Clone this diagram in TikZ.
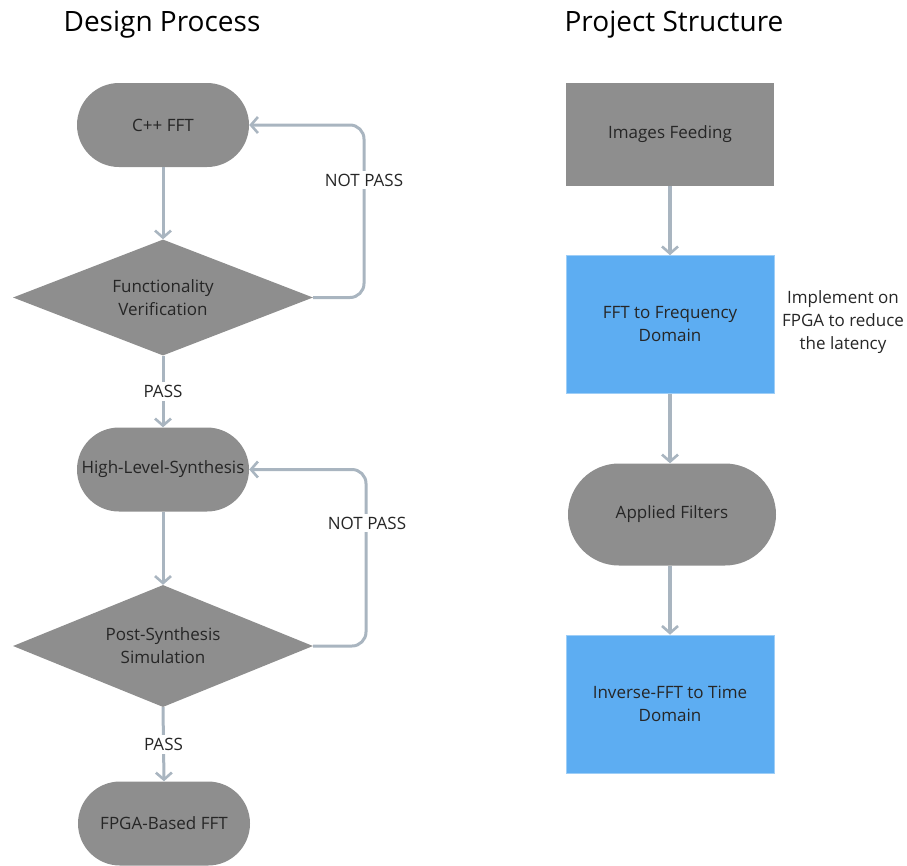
\documentclass[tikz,border=0pt]{standalone}
\usepackage{fontspec}
\setmainfont{Open Sans}
\usetikzlibrary{shapes.geometric,arrows.meta}
\definecolor{boxgrey}{HTML}{8E8E8E}
\definecolor{boxblue}{HTML}{5DADF2}
\definecolor{linegrey}{HTML}{A9B5C0}
\begin{document}
\begin{tikzpicture}[x=1pt,y=-1pt,
  every node/.style={font=\fontsize{17}{23}\selectfont, text=black!85},
  stadium/.style={rectangle, fill=boxgrey, rounded corners=42pt, minimum width=172pt, minimum height=84pt, inner sep=0pt, align=center},
  rstadium/.style={rectangle, fill=boxgrey, rounded corners=51pt, minimum width=208pt, minimum height=102pt, inner sep=0pt, align=center},
  decision/.style={diamond, aspect=2.6, fill=boxgrey, minimum width=300pt, minimum height=116pt, inner sep=0pt, align=center},
  greybox/.style={rectangle, fill=boxgrey, minimum width=208pt, minimum height=103pt, inner sep=0pt, align=center},
  bluebox/.style={rectangle, fill=boxblue, draw=boxblue!60!white, line width=0.6pt, minimum width=208pt, minimum height=138pt, inner sep=0pt, align=center},
  conn/.style={draw=linegrey, line width=3pt, -{Straight Barb[length=7pt,width=16pt,line width=2.6pt]}},
  rconn/.style={conn, line width=3.8pt},
  lbl/.style={fill=white, inner sep=3pt},
  title/.style={font=\fontsize{28}{34}\selectfont, text=black}
]
\useasboundingbox (0,0) rectangle (907,865);

% titles
\node[title] (t1) at (162,25) {Design Process};
\node[title] (t2) at (674,25) {Project Structure};

% left column
\node[stadium] (cpp) at (163,125) {C++ FFT};
\node[decision] (fv) at (163,297.5) {Functionality\\Verification};
\node[stadium] (hls) at (163,469.5) {High-Level-Synthesis};
\node[decision, minimum height=122pt] (ps) at (163,646) {Post-Synthesis\\Simulation};
\node[stadium] (fpga) at (164,823.5) {FPGA-Based FFT};

\draw[conn] (cpp.south) -- (fv.north);
\draw[conn, rounded corners=14pt] (fv.east) -- (364,297.5) -- (364,125) -- (cpp.east);
\node[lbl] (np1) at (364,180) {NOT PASS};
\draw[conn] (fv.south) -- node[lbl] (p1) {PASS} (hls.north);

\draw[conn] (hls.south) -- (ps.north);
\draw[conn, rounded corners=14pt] (ps.east) -- (366,646) -- (366,469.5) -- (hls.east);
\node[lbl] (np2) at (367,523) {NOT PASS};
\draw[conn] (ps.south) -- node[lbl] (p2) {PASS} (fpga.north);

% right column
\node[greybox] (img) at (670,134.5) {Images Feeding};
\node[bluebox] (fft) at (670,324.5) {FFT to Frequency\\Domain};
\node[rstadium] (filt) at (672,514.5) {Applied Filters};
\node[bluebox] (ifft) at (670,704) {Inverse-FFT to Time\\Domain};
\node[align=center] (note) at (843,322) {Implement on\\FPGA to reduce\\the latency};

\draw[rconn] (img.south) -- (fft.north);
\draw[rconn] (fft.south) -- (fft.south |- filt.north);
\draw[rconn] (filt.south -| ifft.north) -- (ifft.north);
\end{tikzpicture}
\end{document}
